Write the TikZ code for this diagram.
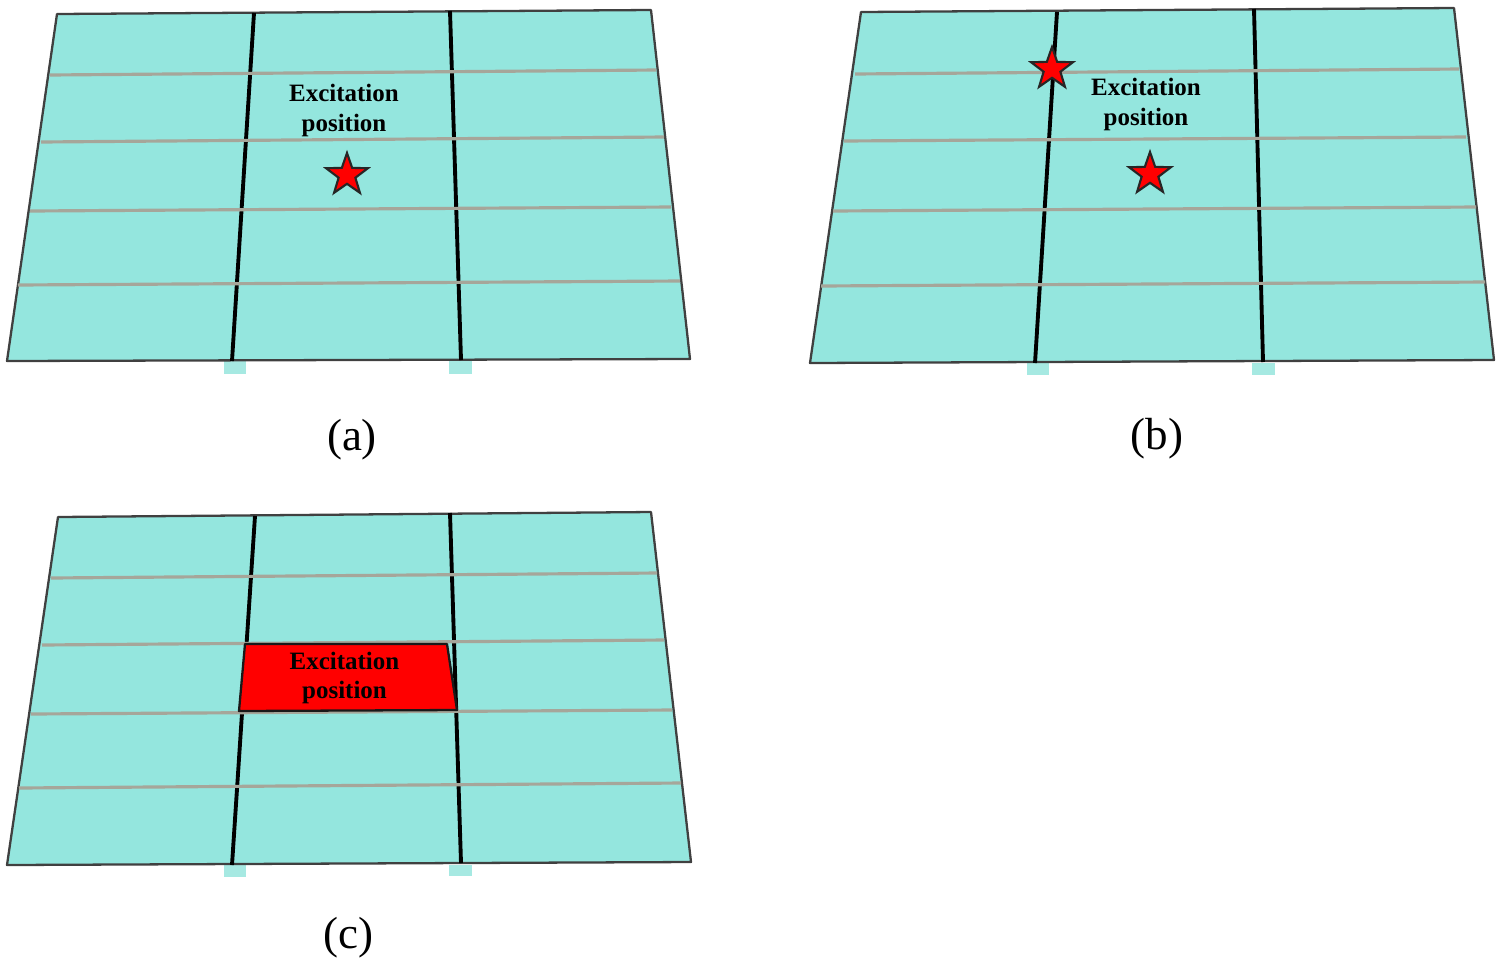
\documentclass[tikz,border=0pt]{standalone}
\usepackage{fontspec}
\setmainfont{Liberation Serif}
\usepackage{tikz}
\usetikzlibrary{shapes.geometric}
\definecolor{slabfill}{HTML}{94E6DE}
\definecolor{footfill}{HTML}{A6E9E2}
\definecolor{beamgray}{HTML}{A6A69A}
\pgfdeclarelayer{edgelayer}
\pgfdeclarelayer{nodelayer}
\pgfsetlayers{edgelayer,nodelayer,main}
\tikzstyle{none}=[inner sep=0pt]
\tikzstyle{slab}=[fill=slabfill,draw=black!75,line width=0.65pt,line join=round]
\tikzstyle{foot}=[fill=footfill,draw=none]
\tikzstyle{girder}=[draw=black,line width=1.1pt]
\tikzstyle{beam}=[draw=beamgray,line width=0.9pt]
\tikzstyle{redstar}=[star,star points=5,star point ratio=2.5,fill=red,draw=black!85,line width=0.6pt,inner sep=0pt,minimum size=0.44cm]
\tikzstyle{redpatch}=[fill=red,draw=black!90,line width=0.65pt,line join=round]
\tikzstyle{poslabel}=[inner sep=0pt,align=center,font=\fontsize{7.1}{8.3}\selectfont\bfseries]
\tikzstyle{caption}=[inner sep=0pt,font=\fontsize{12.8}{14}\selectfont]

\begin{document}
\begin{tikzpicture}[x=0.01cm,y=0.01cm]
	\useasboundingbox (0,0) rectangle (1500,-960);
	\begin{pgfonlayer}{nodelayer}
		% panel a
		\node [style=none] (a0) at (57,-14) {};
		\node [style=none] (a1) at (651,-10) {};
		\node [style=none] (a2) at (690,-359) {};
		\node [style=none] (a3) at (7,-361) {};
		\node [style=none] (a4) at (50,-75) {};
		\node [style=none] (a5) at (656,-70) {};
		\node [style=none] (a6) at (41,-142) {};
		\node [style=none] (a7) at (664,-137) {};
		\node [style=none] (a8) at (30,-211) {};
		\node [style=none] (a9) at (671,-207) {};
		\node [style=none] (a10) at (18,-285) {};
		\node [style=none] (a11) at (680,-281) {};
		\node [style=none] (a12) at (254,-13) {};
		\node [style=none] (a13) at (232,-361) {};
		\node [style=none] (a14) at (450,-11) {};
		\node [style=none] (a15) at (461,-360) {};
		\node [style=poslabel] (alabel) at (344,-110.5) {Excitation\\position};
		\node [style=redstar] (astar) at (347,-175) {};
		\node [style=caption] (acap) at (352,-440) {(a)};
		% panel b
		\node [style=none] (b0) at (861,-12) {};
		\node [style=none] (b1) at (1454,-8) {};
		\node [style=none] (b2) at (1494,-360) {};
		\node [style=none] (b3) at (810,-363) {};
		\node [style=none] (b4) at (855,-74) {};
		\node [style=none] (b5) at (1459,-69) {};
		\node [style=none] (b6) at (844,-141) {};
		\node [style=none] (b7) at (1466,-137) {};
		\node [style=none] (b8) at (833,-211) {};
		\node [style=none] (b9) at (1476,-207) {};
		\node [style=none] (b10) at (821,-286) {};
		\node [style=none] (b11) at (1485,-282) {};
		\node [style=none] (b12) at (1057,-12) {};
		\node [style=none] (b13) at (1035,-363) {};
		\node [style=none] (b14) at (1254,-9) {};
		\node [style=none] (b15) at (1263,-362) {};
		\node [style=poslabel] (blabel) at (1146,-104.5) {Excitation\\position};
		\node [style=redstar] (bstar0) at (1052,-69) {};
		\node [style=redstar] (bstar1) at (1150,-174) {};
		\node [style=caption] (bcap) at (1157,-439) {(b)};
		% panel c
		\node [style=none] (c0) at (58,-517) {};
		\node [style=none] (c1) at (651,-512) {};
		\node [style=none] (c2) at (691,-862) {};
		\node [style=none] (c3) at (7,-865) {};
		\node [style=none] (c4) at (51,-578) {};
		\node [style=none] (c5) at (657,-573) {};
		\node [style=none] (c6) at (42,-645) {};
		\node [style=none] (c7) at (664,-640) {};
		\node [style=none] (c8) at (31,-714) {};
		\node [style=none] (c9) at (672,-710) {};
		\node [style=none] (c10) at (19,-788) {};
		\node [style=none] (c11) at (681,-783) {};
		\node [style=none] (c12) at (255,-516) {};
		\node [style=none] (c13) at (232,-865) {};
		\node [style=none] (c14) at (450,-513) {};
		\node [style=none] (c15) at (461,-863) {};
		\draw [style=redpatch] (245,-644) to (447,-644) to (457,-710) to (239,-711) -- cycle;
		\node [style=poslabel] (clabel) at (344.5,-678) {Excitation\\position};
		\node [style=caption] (ccap) at (348,-938) {(c)};
	\end{pgfonlayer}
	\begin{pgfonlayer}{edgelayer}
		% columns under the slab edge
		\fill [style=foot] (224,-361) rectangle (246,-374);
		\fill [style=foot] (449,-361) rectangle (472,-374);
		\fill [style=foot] (1027,-363) rectangle (1049,-375);
		\fill [style=foot] (1252,-363) rectangle (1275,-375);
		\fill [style=foot] (224,-865) rectangle (246,-877);
		\fill [style=foot] (449,-865) rectangle (472,-876);
		\foreach \p in {a,b,c} {
			\draw [style=slab] (\p0.center) to (\p1.center) to (\p2.center) to (\p3.center) -- cycle;
			\draw [style=girder] (\p12.center) to (\p13.center);
			\draw [style=girder] (\p14.center) to (\p15.center);
			\draw [style=beam] (\p4.center) to (\p5.center);
			\draw [style=beam] (\p6.center) to (\p7.center);
			\draw [style=beam] (\p8.center) to (\p9.center);
			\draw [style=beam] (\p10.center) to (\p11.center);
		}
	\end{pgfonlayer}
\end{tikzpicture}
\end{document}
